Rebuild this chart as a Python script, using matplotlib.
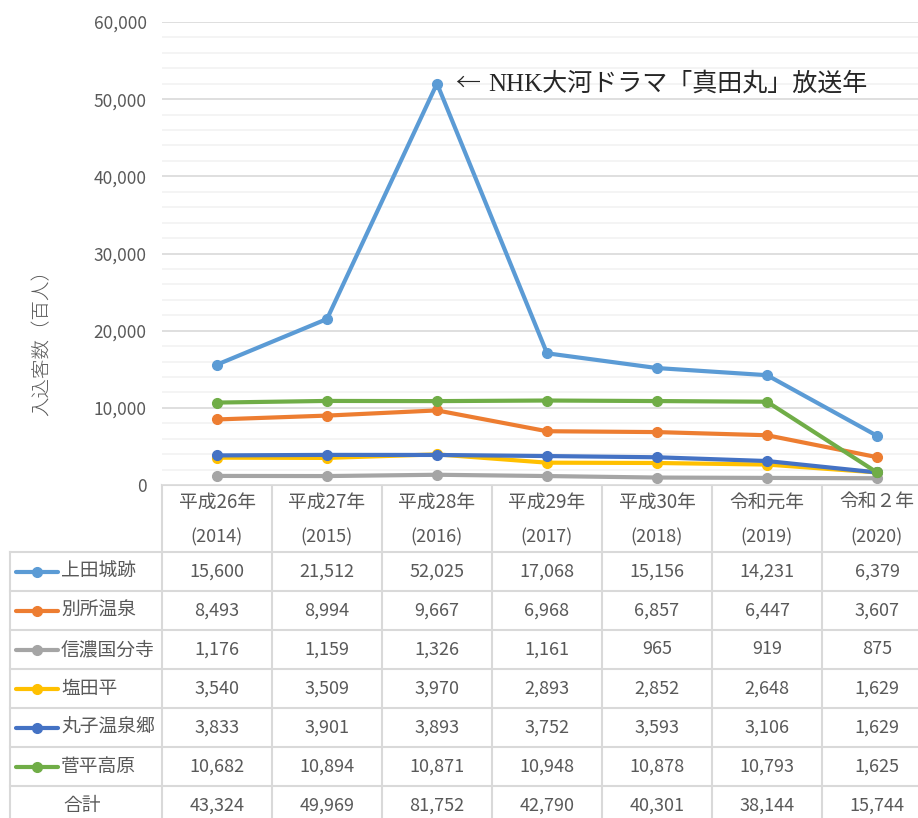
import matplotlib
matplotlib.use("Agg")
import matplotlib.pyplot as plt
from matplotlib.ticker import MultipleLocator, FuncFormatter

plt.rcParams['font.family'] = ['Noto Sans CJK JP', 'DejaVu Sans']

# データ（単位：百人）
nen = ["平成26年", "平成27年", "平成28年", "平成29年", "平成30年", "令和元年", "令和２年"]
seireki = ["(2014)", "(2015)", "(2016)", "(2017)", "(2018)", "(2019)", "(2020)"]
chiten = ["上田城跡", "別所温泉", "信濃国分寺", "塩田平", "丸子温泉郷", "菅平高原"]
ueda_jo = [15600, 21512, 52025, 17068, 15156, 14231, 6379]
bessho = [8493, 8994, 9667, 6968, 6857, 6447, 3607]
kokubunji = [1176, 1159, 1326, 1161, 965, 919, 875]
shiodadaira = [3540, 3509, 3970, 2893, 2852, 2648, 1629]
maruko = [3833, 3901, 3893, 3752, 3593, 3106, 1629]
sugadaira = [10682, 10894, 10871, 10948, 10878, 10793, 1625]
goukei = [43324, 49969, 81752, 42790, 40301, 38144, 15744]
iro = ["#5B9BD5", "#ED7D31", "#A5A5A5", "#FFC000", "#4472C4", "#70AD47"]

series = [ueda_jo, bessho, kokubunji, shiodadaira, maruko, sugadaira]

W, H = 918, 818
fig = plt.figure(figsize=(W / 100, H / 100), dpi=100)
grau = "#595959"
linie = "#D9D9D9"

# グラフ部分
ax = fig.add_axes([162 / W, 1 - 485 / H, (918 - 162) / W, (485 - 22) / H])
x = list(range(len(nen)))
for werte, c in zip(series, iro):
    ax.plot(x, werte, color=c, lw=3, marker="o", ms=7, solid_capstyle="round", zorder=3)
ax.set_xlim(-0.5, (918 - 217) / 110)
ax.set_ylim(0, 60000)
ax.yaxis.set_major_locator(MultipleLocator(10000))
ax.yaxis.set_minor_locator(MultipleLocator(2000))
ax.yaxis.set_major_formatter(FuncFormatter(lambda v, p: f"{int(v):,}"))
ax.grid(axis="y", which="major", color=linie, lw=1.2, zorder=0)
ax.grid(axis="y", which="minor", color="#F2F2F2", lw=1.2, zorder=0)
ax.set_xticks([])
ax.tick_params(axis="y", which="both", length=0, pad=11, labelsize=12.5, labelcolor=grau)
for s in ax.spines.values():
    s.set_visible(False)

# 注記
ax.annotate("←", xy=(2, ueda_jo[2]), xytext=(13, 0), textcoords="offset points",
            va="center", ha="left", fontsize=18, color="#262626", fontweight="light")
ax.annotate("NHK大河ドラマ「真田丸」放送年", xy=(2, ueda_jo[2]), xytext=(37, 0),
            textcoords="offset points", va="center", ha="left", fontsize=18,
            color="#262626", family=["Liberation Serif", "Noto Sans CJK JP"])

fig.text(42 / W, 1 - 338 / H, "入込客数（百人）", rotation=90, ha="center", va="center",
         fontsize=14, color=grau, fontweight="light")

# データテーブル部分
tab = fig.add_axes([0, 0, 1, 1], zorder=-1)
tab.set_xlim(0, W)
tab.set_ylim(H, 0)
tab.axis("off")

col0, colw = 162, 110
top, head_bottom, rowh = 485, 552, 39
n_rows = len(chiten) + 1
bottom = head_bottom + rowh * n_rows
tab.plot([col0, W], [top, top], color=linie, lw=1.5)
for r in range(n_rows + 1):
    y = head_bottom + rowh * r
    tab.plot([10, W], [y, y], color=linie, lw=1.5)
tab.plot([10, 10], [head_bottom, bottom], color=linie, lw=1.5)
for i in range(len(nen) + 1):
    xx = col0 + colw * i
    tab.plot([xx, xx], [top, bottom], color=linie, lw=1.5)

for i in range(len(nen)):
    xc = col0 + colw * (i + 0.5)
    tab.text(xc, 502, nen[i], ha="center", va="center", fontsize=13.5, color=grau)
    tab.text(xc, 537, seireki[i], ha="center", va="center", fontsize=13, color=grau)

zeilen = series + [goukei]
for r, werte in enumerate(zeilen):
    yc = head_bottom + rowh * (r + 0.5)
    if r < len(chiten):
        tab.plot([16, 58], [yc, yc], color=iro[r], lw=3, solid_capstyle="round")
        tab.plot([37], [yc], color=iro[r], marker="o", ms=7)
        tab.text(61, yc, chiten[r], ha="left", va="center", fontsize=13.5, color=grau)
    else:
        tab.text(82, yc, "合計", ha="center", va="center", fontsize=13.5, color=grau)
    for i, v in enumerate(werte):
        xc = col0 + colw * (i + 0.5)
        tab.text(xc, yc, f"{v:,}", ha="center", va="center", fontsize=13, color=grau)

fig.savefig("out.png", dpi=100, facecolor="white")
